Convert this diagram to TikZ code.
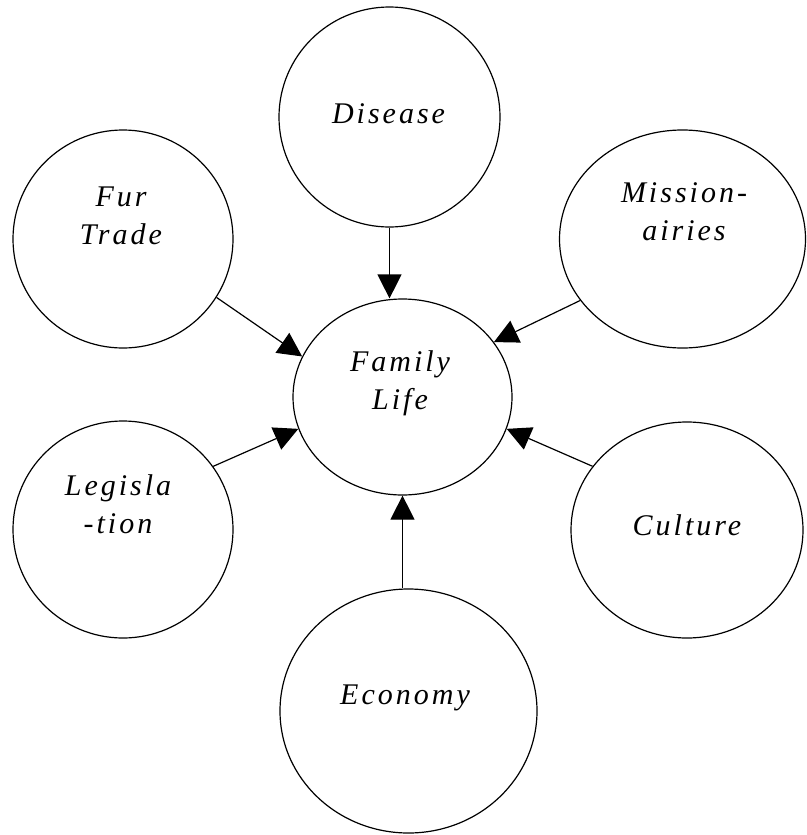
\documentclass[tikz,border=0pt]{standalone}
\usepackage{fontspec}
\newfontfamily\diafont[LetterSpace=10]{Liberation Serif}
\usetikzlibrary{shapes.geometric,arrows.meta}
\tikzset{
  bubble/.style={draw=black, ellipse, line width=1.2pt, inner sep=0pt},
  lbl/.style={font=\diafont\itshape\fontsize{30}{38}\selectfont, align=center, inner sep=0pt},
  arr/.style={line width=1.2pt, -{Triangle[length=24pt,width=24pt]}}
}
\begin{document}
\begin{tikzpicture}[x=1pt,y=-1pt]
\useasboundingbox (0,0) rectangle (806,835);
% bubbles
\node[bubble, minimum width=221pt, minimum height=220pt] (dis) at (389.5,117) {};
\node[bubble, minimum width=220pt, minimum height=218pt] (fur) at (123,239) {};
\node[bubble, minimum width=246pt, minimum height=218pt] (mis) at (682.5,239) {};
\node[bubble, minimum width=219pt, minimum height=196pt] (fam) at (402.5,397) {};
\node[bubble, minimum width=220pt, minimum height=217pt] (leg) at (123,529.5) {};
\node[bubble, minimum width=232pt, minimum height=216pt] (cul) at (687,530) {};
\node[bubble, minimum width=257pt, minimum height=244pt] (eco) at (408.5,711) {};
% labels
\node[lbl] (tdis) at (388.5,113.5) {Disease};
\node[lbl] (tfur) at (121,216) {Fur\\Trade};
\node[lbl] (tmis) at (684,212) {Mission-\\airies};
\node[lbl] (tfam) at (400,383) {Family\\Life};
\node[lbl] (tleg) at (118,504) {Legisla\\-tion};
\node[lbl] (tcul) at (687,525) {Culture};
\node[lbl] (teco) at (405,698) {Economy};
% connectors
\draw[arr] (dis.south) -- (dis.south |- fam.north);
\draw[arr] (fam.south |- eco.north) -- (fam.south);
\draw[arr] (fur.-32) -- (fam.158);
\draw[arr] (mis.211) -- (fam.31);
\draw[arr] (leg.35) -- (fam.197);
\draw[arr] (cul.146) -- (fam.-17);
\end{tikzpicture}
\end{document}
